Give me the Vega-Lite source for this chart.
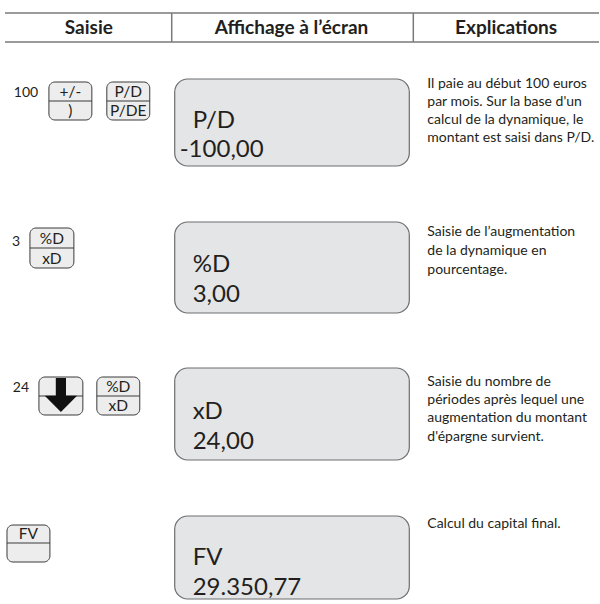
{
  "$schema": "https://vega.github.io/schema/vega-lite/v6.json",
  "width": 600,
  "height": 604,
  "autosize": {"type": "fit", "contains": "padding"},
  "padding": 0,
  "background": "#ffffff",
  "config": {"view": {"stroke": null}, "font": "Lato"},
  "datasets": {
    "hlines": [
      {"x": 5, "x2": 600, "y": 13, "y2": 13},
      {"x": 5, "x2": 600, "y": 42, "y2": 42},
      {"x": 172, "x2": 172, "y": 13, "y2": 42},
      {"x": 414, "x2": 414, "y": 13, "y2": 42}
    ],
    "headers": [
      {"t": "Saisie", "x": 89, "y": 28},
      {"t": "Affichage à l’écran", "x": 292, "y": 28},
      {"t": "Explications", "x": 507, "y": 28}
    ],
    "boxes": [
      {"x": 175, "x2": 410, "y": 79, "y2": 166},
      {"x": 175, "x2": 410, "y": 222, "y2": 313},
      {"x": 175, "x2": 410, "y": 368, "y2": 460},
      {"x": 175, "x2": 410, "y": 516, "y2": 599}
    ],
    "boxtext": [
      {"t": "P/D", "x": 193, "y": 121},
      {"t": "-100,00", "x": 180, "y": 150},
      {"t": "%D", "x": 193, "y": 265},
      {"t": "3,00", "x": 193, "y": 295},
      {"t": "xD", "x": 193, "y": 412},
      {"t": "24,00", "x": 193, "y": 442},
      {"t": "FV", "x": 193, "y": 558},
      {"t": "29.350,77", "x": 193, "y": 588}
    ],
    "keys": [
      {"x": 49, "x2": 92, "y": 82, "y2": 120, "ym": 101},
      {"x": 107, "x2": 150, "y": 82, "y2": 120, "ym": 101},
      {"x": 30, "x2": 74, "y": 228, "y2": 268, "ym": 248},
      {"x": 39, "x2": 83, "y": 377, "y2": 415, "ym": 396},
      {"x": 97, "x2": 140, "y": 377, "y2": 415, "ym": 396},
      {"x": 7, "x2": 50, "y": 525, "y2": 562, "ym": 543}
    ],
    "keylabels": [
      {"t": "+/-", "x": 70.5, "y": 91.5},
      {"t": ")", "x": 70.5, "y": 111},
      {"t": "P/D", "x": 128.5, "y": 91.5},
      {"t": "P/DE", "x": 128.5, "y": 111},
      {"t": "%D", "x": 52, "y": 238.5},
      {"t": "xD", "x": 52, "y": 258.5},
      {"t": "%D", "x": 118.5, "y": 386.5},
      {"t": "xD", "x": 118.5, "y": 406},
      {"t": "FV", "x": 28.5, "y": 534}
    ],
    "arrows": [{"x": 61, "y": 395}],
    "prefix": [
      {"t": "100", "x": 26, "y": 93},
      {"t": "3", "x": 16, "y": 242},
      {"t": "24", "x": 21, "y": 388}
    ],
    "expl": [
      {"t": "Il paie au début 100 euros", "x": 428, "y": 84},
      {"t": "par mois. Sur la base d'un", "x": 428, "y": 102},
      {"t": "calcul de la dynamique, le", "x": 428, "y": 120},
      {"t": "montant est saisi dans P/D.", "x": 428, "y": 138},
      {"t": "Saisie de l’augmentation", "x": 428, "y": 232},
      {"t": "de la dynamique en", "x": 428, "y": 251},
      {"t": "pourcentage.", "x": 428, "y": 270},
      {"t": "Saisie du nombre de", "x": 428, "y": 382},
      {"t": "périodes après lequel une", "x": 428, "y": 400},
      {"t": "augmentation du montant", "x": 428, "y": 418},
      {"t": "d'épargne survient.", "x": 428, "y": 437},
      {"t": "Calcul du capital final.", "x": 428, "y": 524}
    ]
  },
  "layer": [
    {
      "data": {"name": "hlines"},
      "mark": {"type": "rule", "color": "#7a7a7a", "strokeWidth": 1.5},
      "encoding": {
        "x": {"field": "x", "type": "quantitative", "scale": {"domain": [0, 600], "nice": false, "zero": false}, "axis": null},
        "x2": {"field": "x2"},
        "y": {"field": "y", "type": "quantitative", "scale": {"domain": [0, 604], "nice": false, "zero": false, "reverse": true}, "axis": null},
        "y2": {"field": "y2"}
      }
    },
    {
      "data": {"name": "headers"},
      "mark": {"type": "text", "fontSize": 19, "fontWeight": "bold", "color": "#231f20", "align": "center", "baseline": "middle"},
      "encoding": {
        "x": {"field": "x", "type": "quantitative"},
        "y": {"field": "y", "type": "quantitative"},
        "text": {"field": "t"}
      }
    },
    {
      "data": {"name": "boxes"},
      "mark": {"type": "rect", "fill": "#e4e5e6", "stroke": "#6d6e70", "strokeWidth": 1.2, "cornerRadius": 13},
      "encoding": {
        "x": {"field": "x", "type": "quantitative"},
        "x2": {"field": "x2"},
        "y": {"field": "y", "type": "quantitative"},
        "y2": {"field": "y2"}
      }
    },
    {
      "data": {"name": "boxtext"},
      "mark": {"type": "text", "fontSize": 24, "color": "#231f20", "align": "left", "baseline": "middle"},
      "encoding": {
        "x": {"field": "x", "type": "quantitative"},
        "y": {"field": "y", "type": "quantitative"},
        "text": {"field": "t"}
      }
    },
    {
      "data": {"name": "keys"},
      "mark": {"type": "rect", "fill": "#ededed", "stroke": "#3a3a3a", "strokeWidth": 1, "cornerRadius": 6},
      "encoding": {
        "x": {"field": "x", "type": "quantitative"},
        "x2": {"field": "x2"},
        "y": {"field": "y", "type": "quantitative"},
        "y2": {"field": "y2"}
      }
    },
    {
      "data": {"name": "keys"},
      "mark": {"type": "rule", "color": "#3a3a3a", "strokeWidth": 1},
      "encoding": {
        "x": {"field": "x", "type": "quantitative"},
        "x2": {"field": "x2"},
        "y": {"field": "ym", "type": "quantitative"}
      }
    },
    {
      "data": {"name": "arrows"},
      "mark": {"type": "point", "shape": "M -0.3 -1 L 0.3 -1 L 0.3 0.05 L 0.95 0.05 L 0 1 L -0.95 0.05 L -0.3 0.05 Z", "filled": true, "color": "#111111", "opacity": 1, "size": 1156, "strokeWidth": 0},
      "encoding": {
        "x": {"field": "x", "type": "quantitative"},
        "y": {"field": "y", "type": "quantitative"}
      }
    },
    {
      "data": {"name": "keylabels"},
      "mark": {"type": "text", "fontSize": 15.5, "color": "#231f20", "align": "center", "baseline": "middle"},
      "encoding": {
        "x": {"field": "x", "type": "quantitative"},
        "y": {"field": "y", "type": "quantitative"},
        "text": {"field": "t"}
      }
    },
    {
      "data": {"name": "prefix"},
      "mark": {"type": "text", "fontSize": 14, "color": "#231f20", "align": "center", "baseline": "middle"},
      "encoding": {
        "x": {"field": "x", "type": "quantitative"},
        "y": {"field": "y", "type": "quantitative"},
        "text": {"field": "t"}
      }
    },
    {
      "data": {"name": "expl"},
      "mark": {"type": "text", "fontSize": 14, "color": "#231f20", "align": "left", "baseline": "middle"},
      "encoding": {
        "x": {"field": "x", "type": "quantitative"},
        "y": {"field": "y", "type": "quantitative"},
        "text": {"field": "t"}
      }
    }
  ]
}
